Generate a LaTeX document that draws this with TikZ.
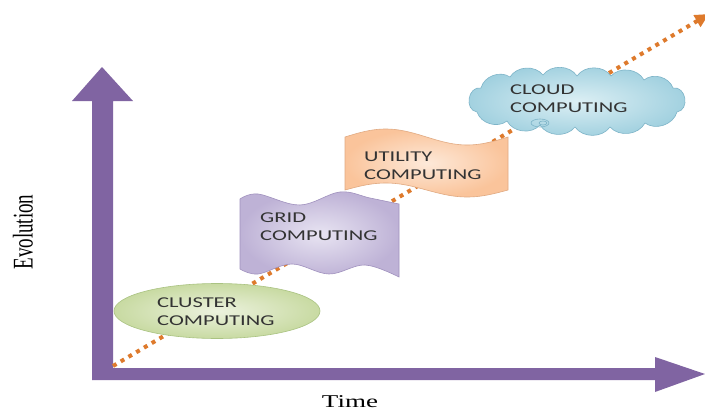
\documentclass[tikz,border=0pt]{standalone}
\usepackage{fontspec}
\usepackage{graphicx}
\setmainfont{Liberation Serif}
\newfontfamily\labfont[FakeStretch=1.5]{Carlito}
\usetikzlibrary{arrows.meta}
\definecolor{axiscol}{HTML}{8064A2}
\definecolor{dotcol}{HTML}{DE7A2C}
\definecolor{txtcol}{HTML}{333333}
\definecolor{cloudedge}{RGB}{125,180,200}
\begin{document}
\begin{tikzpicture}[x=1pt,y=-1pt,
  axisarrow/.style={fill=axiscol, draw=none},
  dotline/.style={draw=dotcol, line width=4pt, dash pattern=on 4pt off 5pt,
    -{Triangle[length=14pt,width=13pt]}},
  lbl/.style={anchor=north west, inner sep=0pt, align=left, text=txtcol,
    font=\labfont\fontsize{15}{18}\selectfont},
  clustershape/.style={inner color={rgb,255:red,236;green,242;blue,222}, outer color={rgb,255:red,200;green,218;blue,162}, draw={rgb,255:red,170;green,195;blue,130}, line width=0.6pt},
  gridshape/.style={inner color={rgb,255:red,232;green,228;blue,242}, outer color={rgb,255:red,190;green,178;blue,214}, draw={rgb,255:red,160;green,145;blue,190}, line width=0.6pt},
  utilshape/.style={inner color={rgb,255:red,253;green,233;blue,217}, outer color={rgb,255:red,250;green,196;blue,155}, draw={rgb,255:red,225;green,170;blue,130}, line width=0.6pt},
  cloudshape/.style={inner color={rgb,255:red,220;green,239;blue,244}, outer color={rgb,255:red,160;green,208;blue,223},
    draw=cloudedge, line width=0.6pt},
  puff/.style={bend left=55},
  sidepuff/.style={bend left=90, looseness=1.4},
  axlabel/.style={inner sep=0pt, font=\fontsize{19}{20}\selectfont, text=black}
]
\useasboundingbox (0,0) rectangle (705,410);
\fill[white] (0,0) rectangle (705,410);

% axes
\fill[axisarrow] (92,380) -- (92,101) -- (72,101) -- (102,67) -- (133,101) -- (113,101) -- (113,368) -- cycle;
\fill[axisarrow] (92,368) -- (655,368) -- (655,357) -- (705,374) -- (655,392) -- (655,380) -- (92,380) -- cycle;

% dotted evolution line
\coordinate (start) at (113,366);
\coordinate (finish) at (709,14);
\draw[dotline] (start) -- (finish);

% cluster
\path[clustershape] (217,311) ellipse [x radius=103, y radius=27.5];

% grid
\path[gridshape] plot[smooth, tension=0.6] coordinates {(240,199) (258,194) (300,205) (340,192) (370,198) (399,204)}
  -- plot[smooth, tension=0.6] coordinates {(399,277) (365,265) (329,274) (292,264) (258,274) (240,269)} -- cycle;

% utility
\path[utilshape] plot[domain=345:508, samples=60] (\x,{137-8*sin(2.2086*(\x-345))})
  -- plot[domain=508:345, samples=60] (\x,{190-7*sin(2.2086*(\x-345))}) -- cycle;

% cloud
\path[cloudshape] (477,112) to[sidepuff] (481,88) to[puff] (510,77) to[puff] (543,75)
  to[puff] (577,76) to[puff] (611,76) to[puff] (644,80) to[puff] (673,88)
  to[sidepuff] (677,112) to[puff] (645,123) to[puff] (610,127) to[puff] (575,127)
  to[puff] (540,125) to[puff] (507,121) to[puff] (477,112) -- cycle;
\draw[draw=cloudedge, line width=0.6pt] (540,123) ellipse [x radius=9, y radius=4];
\draw[draw=cloudedge, line width=0.6pt] (543,123) ellipse [x radius=4, y radius=2];

% labels
\node[lbl] (cl) at (157,298) {CLUSTER\\COMPUTING};
\node[lbl] (gr) at (260,213) {GRID\\COMPUTING};
\node[lbl] (ut) at (364,152) {UTILITY\\COMPUTING};
\node[lbl] (cd) at (510,85) {CLOUD\\COMPUTING};

\node[axlabel, rotate=90] (ev) at (23,232) {\scalebox{1}[1.5]{Evolution}};
\node[axlabel, anchor=base, font=\fontsize{18}{20}\selectfont] (tm) at (350,407) {\scalebox{1.5}[1]{Time}};
\end{tikzpicture}
\end{document}
